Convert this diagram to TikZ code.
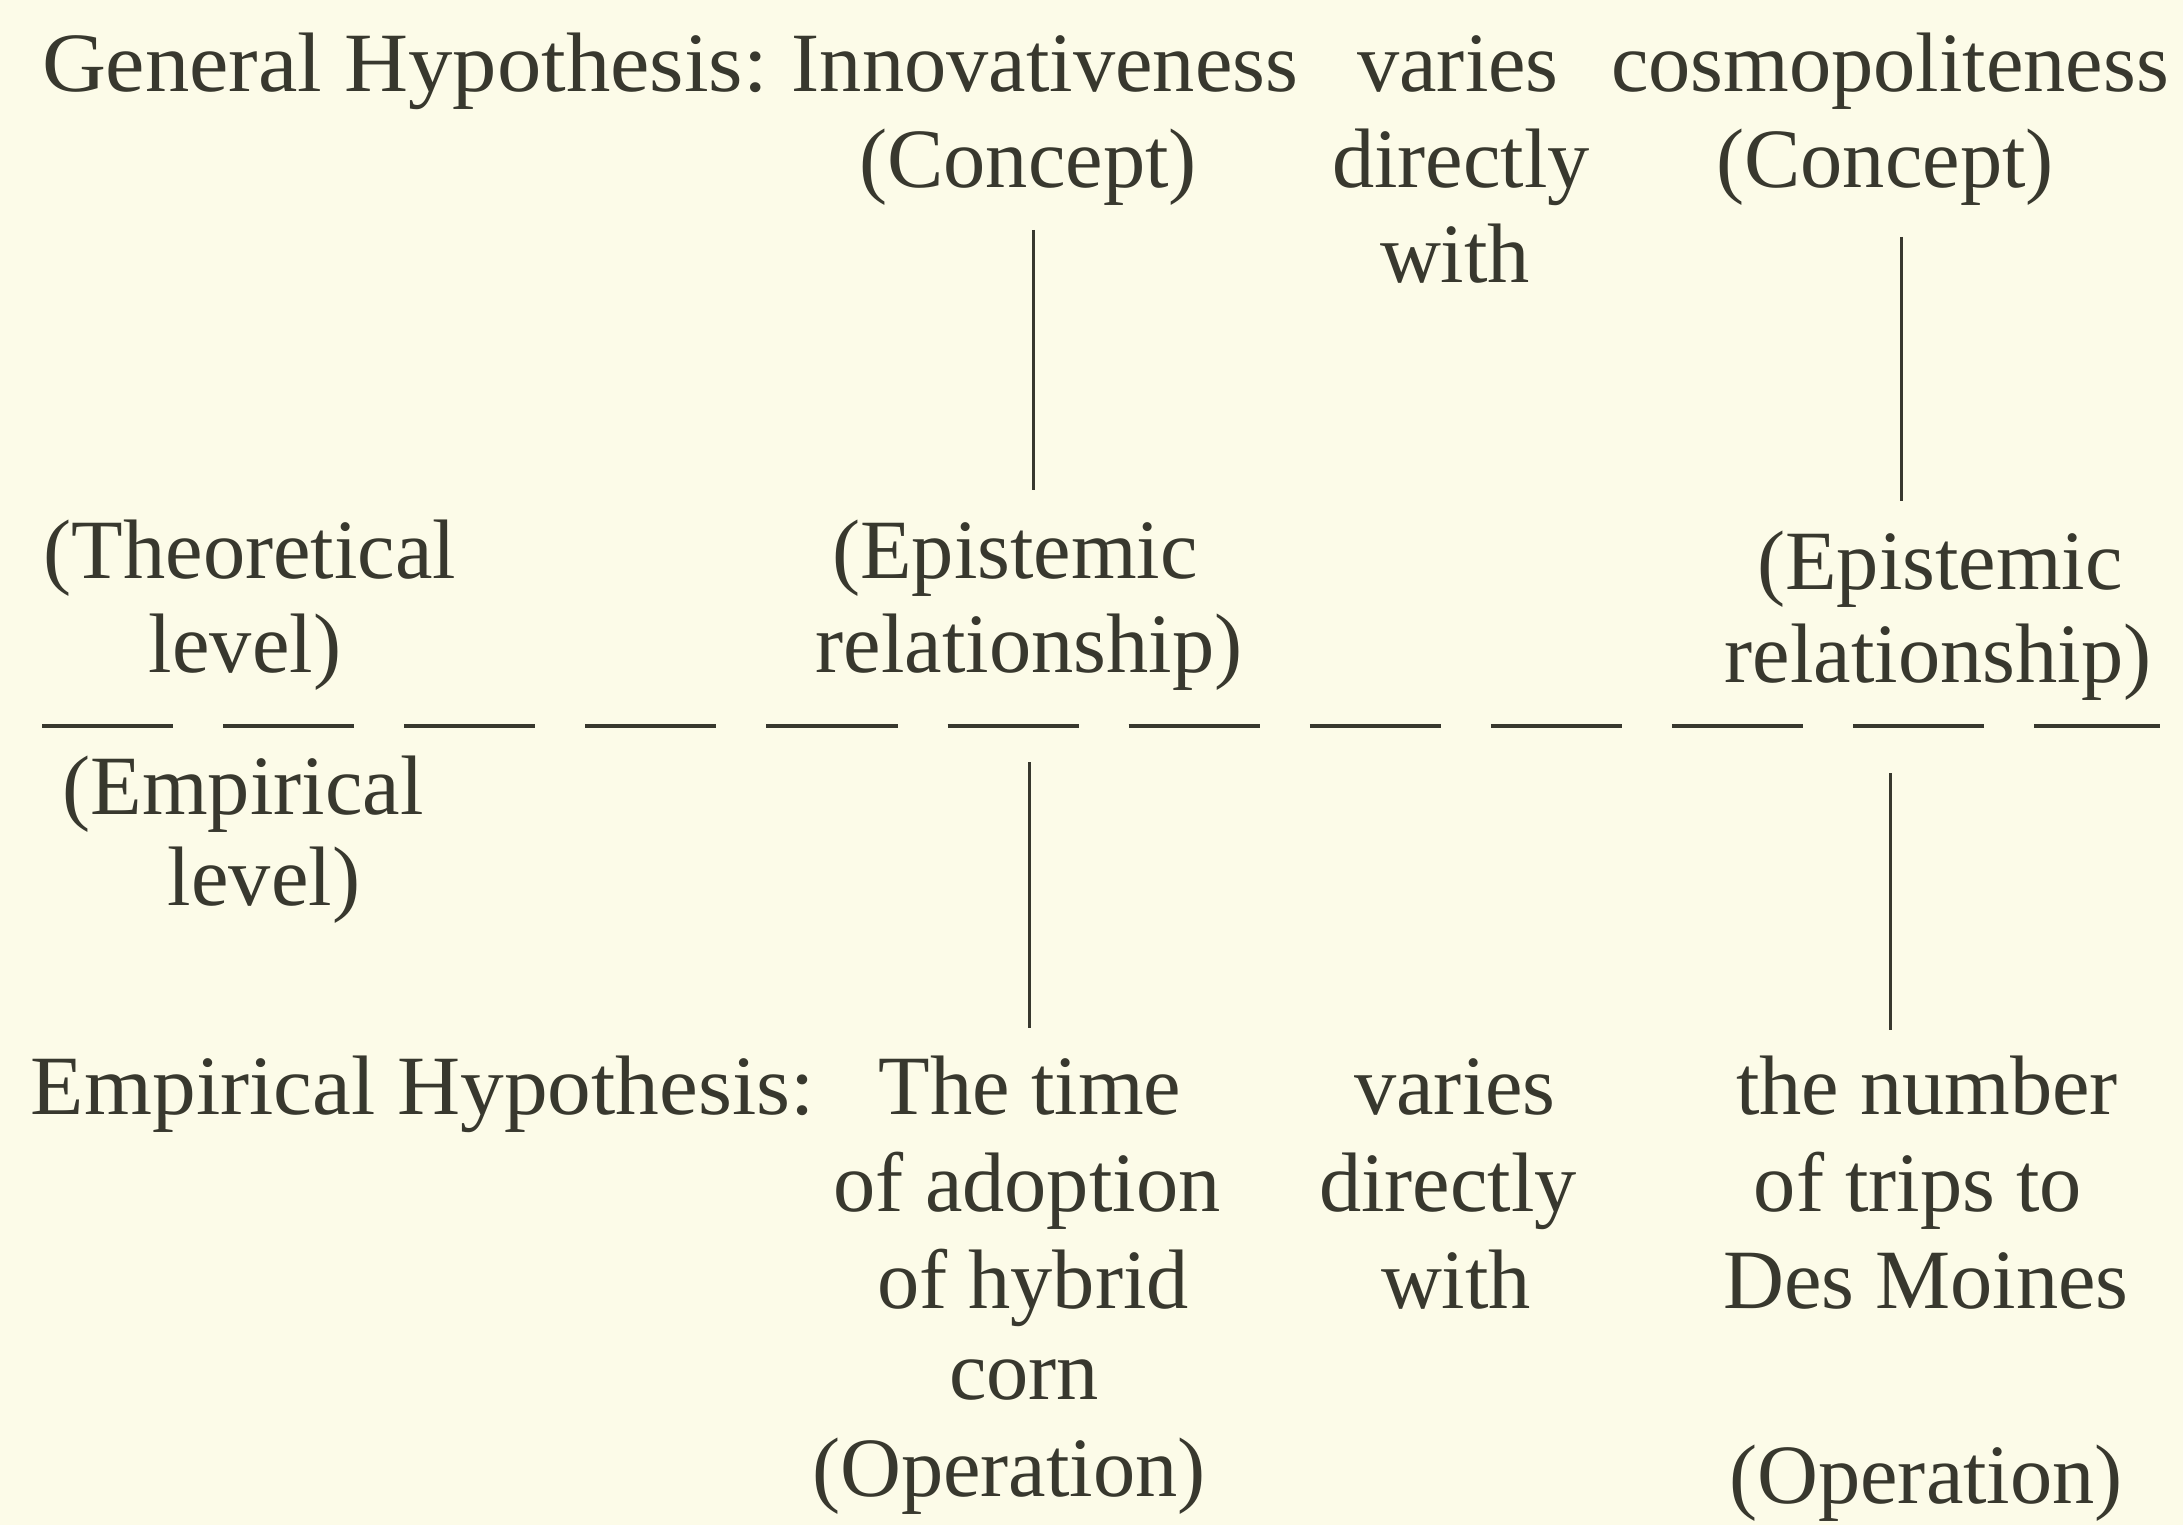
\documentclass[tikz,border=0pt]{standalone}
\usepackage{fontspec}
\setmainfont{Liberation Serif}
\usetikzlibrary{calc}
\definecolor{paper}{RGB}{252,251,232}
\definecolor{ink}{RGB}{56,56,46}
\tikzset{
  txt/.style={inner sep=0pt, outer sep=0pt, text=ink, font=\fontsize{24}{28}\selectfont, anchor=base},
  txtw/.style={txt, anchor=base west},
  conn/.style={draw=ink, line width=0.85pt},
  sep/.style={draw=ink, line width=1.1pt, dash pattern=on 1.31cm off 0.5cm}
}
\begin{document}
\begin{tikzpicture}[x=0.01cm, y=-0.01cm]
\useasboundingbox (0,0) rectangle (2183,1525);
\fill[paper] (0,0) rectangle (2183,1525);
% line 1
\node[txtw] (gh) at (42,92) {\scalebox{1.05}[1]{General Hypothesis:}};
\node[txt] (inn) at (1045,92) {Innovativeness};
\node[txt] (var1) at (1458,92) {varies};
\node[txt] (cos) at (1890,92) {cosmopoliteness};
% line 2, 3
\node[txt] (cA) at (1028,188) {(Concept)};
\node[txt] (dir1) at (1461,188) {directly};
\node[txt] (cB) at (1885,188) {(Concept)};
\node[txt] (with1) at (1455,283) {with};
% theoretical level
\node[txt] (th1) at (250,578) {(Theoretical};
\node[txt] (th2) at (245,672) {level)};
\node[txt] (eA1) at (1015,578) {(Epistemic};
\node[txt] (eA2) at (1029,672) {relationship)};
\node[txt] (eB1) at (1940,589) {(Epistemic};
\node[txt] (eB2) at (1938,682) {relationship)};
% separator
\draw[sep] (42,726) -- (2160,726);
% empirical level
\node[txt] (em1) at (243,814) {(Empirical};
\node[txt] (em2) at (264,905) {level)};
% empirical hypothesis
\node[txtw] (eh) at (31,1114) {\scalebox{1.035}[1]{Empirical Hypothesis:}};
\node[txt] (r1) at (1030,1114) {The time};
\node[txt] (r2) at (1027,1211) {of adoption};
\node[txt] (r3) at (1033,1308) {of hybrid};
\node[txt] (r4) at (1024,1399) {corn};
\node[txt] (r5) at (1009,1496) {(Operation)};
\node[txt] (m1) at (1455,1114) {varies};
\node[txt] (m2) at (1448,1211) {directly};
\node[txt] (m3) at (1456,1308) {with};
\node[txt] (s1) at (1927,1114) {the number};
\node[txt] (s2) at (1918,1211) {of trips to};
\node[txt] (s3) at (1926,1308) {Des Moines};
\node[txt] (s4) at (1926,1503) {(Operation)};
% connector x positions
\coordinate (xA) at (1033,0);
\coordinate (xB) at (1901,0);
\coordinate (xC) at (1029,0);
\coordinate (xD) at (1890,0);
\draw[conn] ($(cA.base -| xA)+(0,42)$) -- ($(eA1.base -| xA)+(0,-88)$);
\draw[conn] ($(cB.base -| xB)+(0,49)$) -- ($(eB1.base -| xB)+(0,-88)$);
\draw[conn] ($(eA2.base -| xC)+(0,90)$) -- ($(r1.base -| xC)+(0,-86)$);
\draw[conn] ($(eB2.base -| xD)+(0,91)$) -- ($(s1.base -| xD)+(0,-84)$);
\end{tikzpicture}
\end{document}
